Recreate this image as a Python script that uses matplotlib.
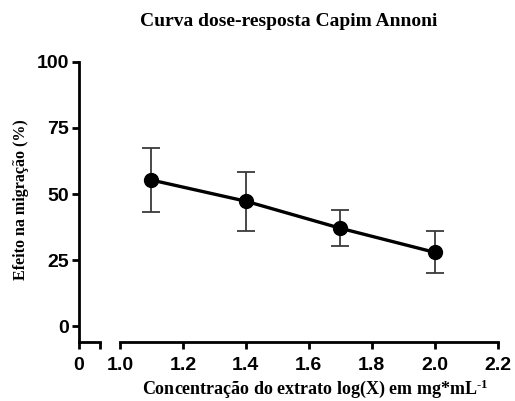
import matplotlib
matplotlib.use("Agg")
import matplotlib.pyplot as plt

plt.rcParams["mathtext.fontset"] = "custom"
plt.rcParams["mathtext.rm"] = "Liberation Serif:bold"
plt.rcParams["mathtext.bf"] = "Liberation Serif:bold"
plt.rcParams["mathtext.default"] = "bf"

log_conc = [1.1, 1.4, 1.7, 2.0]
effect = [55.3, 47.3, 37.1, 28.0]
err_up = [12.0, 11.2, 6.9, 8.1]
err_down = [12.2, 11.2, 6.6, 7.7]

y_ticks = [0, 25, 50, 75, 100]
x_ticks = [1.0, 1.2, 1.4, 1.6, 1.8, 2.0, 2.2]
x_tick_labels = ["1.0", "1.2", "1.4", "1.6", "1.8", "2.0", "2.2"]

W, H = 515, 401
fig = plt.figure(figsize=(W / 100, H / 100), dpi=100)

ymin = -5.7
bottom = (H - 341.5) / H
top = (H - 61.7) / H
hgt = top - bottom

sans = ["Liberation Sans", "DejaVu Sans"]
serif = ["Liberation Serif", "DejaVu Serif"]
lw_spine = 2.0
tfs = 14

axL = fig.add_axes([79 / W, bottom, (100 - 79) / W, hgt])
axR = fig.add_axes([120 / W, bottom, (497.5 - 120) / W, hgt], sharey=axL)

for ax in (axL, axR):
    for s in ("top", "right"):
        ax.spines[s].set_visible(False)
    ax.spines["bottom"].set_linewidth(lw_spine)
    ax.spines["left"].set_linewidth(lw_spine)
    ax.tick_params(axis="both", width=lw_spine, length=5, direction="out",
                   labelsize=tfs, pad=2)
    ax.tick_params(axis="x", pad=6)

axL.set_ylim(ymin, 100)
axL.set_yticks(y_ticks)
axL.set_yticklabels([str(v) for v in y_ticks], fontfamily=sans, fontweight="bold", fontsize=tfs)
axL.set_xlim(0, 1)
axL.set_xticks([0, 1])
axL.set_xticklabels(["0", ""], fontfamily=sans, fontweight="bold", fontsize=tfs)

axR.spines["left"].set_visible(False)
axR.tick_params(axis="y", left=False, labelleft=False)
axR.set_xlim(1.0, 2.2)
axR.set_xticks(x_ticks)
axR.set_xticklabels(x_tick_labels, fontfamily=sans, fontweight="bold", fontsize=tfs)

axR.errorbar(log_conc, effect, yerr=[err_down, err_up], fmt="none",
             ecolor="#3a3a3a", elinewidth=1.3, capsize=6.5, capthick=1.3, zorder=2)
axR.plot(log_conc, effect, color="black", lw=2.4, marker="o", markersize=10,
         zorder=3, clip_on=False)

fig.text(288.5 / W, 1 - 22 / H, "Curva dose-resposta Capim Annoni",
         ha="center", va="center", fontfamily=serif, fontweight="bold", fontsize=14)
fig.text(315 / W, 1 - 389 / H, r"Concentração do extrato log(X) em mg*mL$^{\text{-1}}$",
         ha="center", va="center", fontfamily=serif, fontweight="bold", fontsize=13)
fig.text(21 / W, 1 - 200 / H, "Efeito na migração (%)", rotation=90,
         ha="center", va="center", fontfamily=serif, fontweight="bold", fontsize=11.5)

fig.savefig("out.png", dpi=100)
